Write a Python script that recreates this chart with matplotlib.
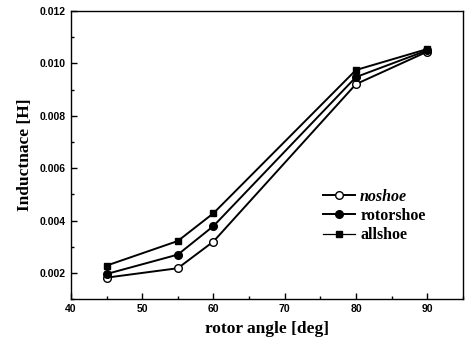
import matplotlib
matplotlib.use('Agg')
import matplotlib.pyplot as plt
from matplotlib.ticker import MultipleLocator, FormatStrFormatter

# data
angle = [45, 55, 60, 80, 90]
noshoe = [0.00182, 0.00218, 0.00320, 0.00921, 0.01045]
rotorshoe = [0.00196, 0.00270, 0.00379, 0.00948, 0.01050]
allshoe = [0.00228, 0.00322, 0.00428, 0.00975, 0.01055]

fig = plt.figure(figsize=(4.67, 3.47), dpi=100)
ax = fig.add_axes([0.152, 0.138, 0.839, 0.830])

ax.plot(angle, noshoe, color='black', lw=1.4, marker='o', ms=5.5,
        mfc='white', mec='black', mew=1.0, label='noshoe')
ax.plot(angle, rotorshoe, color='black', lw=1.4, marker='o', ms=5.5,
        mfc='black', mec='black', label='rotorshoe')
ax.plot(angle, allshoe, color='black', lw=1.4, marker='s', ms=5,
        mfc='black', mec='black', label='allshoe')

ax.set_xlim(40, 95)
ax.set_ylim(0.001, 0.012)
ax.xaxis.set_major_locator(MultipleLocator(10))
ax.xaxis.set_minor_locator(MultipleLocator(5))
ax.yaxis.set_major_locator(MultipleLocator(0.002))
ax.yaxis.set_minor_locator(MultipleLocator(0.001))
ax.yaxis.set_major_formatter(FormatStrFormatter('%.3f'))
ax.tick_params(which='both', direction='in', width=1.0)
ax.tick_params(which='major', length=4, labelsize=7.5)
ax.tick_params(which='minor', length=2)
for lab in ax.get_xticklabels() + ax.get_yticklabels():
    lab.set_fontweight('bold')
    lab.set_family('Liberation Sans')
for sp in ax.spines.values():
    sp.set_linewidth(1.0)

ax.set_xlabel('rotor angle [deg]', family='Liberation Serif', fontweight='bold',
              fontsize=12.5, labelpad=5)
ax.set_ylabel('Inductnace [H]', family='Liberation Serif', fontweight='bold',
              fontsize=12.5, labelpad=5)

leg = ax.legend(loc='upper left', bbox_to_anchor=(0.628, 0.405), frameon=False,
                handlelength=2.0, handletextpad=0.3, labelspacing=0.2,
                borderaxespad=0,
                prop={'family': 'Liberation Serif', 'weight': 'bold', 'size': 11.5})
leg.get_texts()[0].set_style('italic')
leg.get_lines()[2].set_linewidth(0.9)

fig.savefig('out.png', dpi=100)
